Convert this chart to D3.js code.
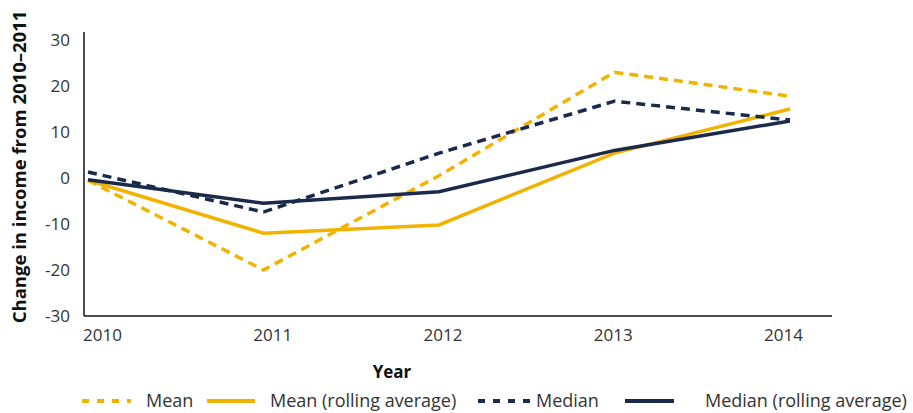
<!DOCTYPE html>
<html lang="en">
<head>
<meta charset="UTF-8">
<title>Change in income</title>
<script src="https://d3js.org/d3.v7.min.js"></script>
<style>
    body { margin: 0; background: #fff; }
    text { font-family: 'Open Sans', 'Noto Sans', sans-serif; }
    .tick text { fill: #333; font-size: 17px; }
</style>
</head>
<body>
<div id="chart"></div>
<script>
    const years = ["2010", "2011", "2012", "2013", "2014"];
    const mean = [-0.5, -20, 0.5, 23, 17.8];
    const meanRolling = [-0.5, -12, -10.2, 5.4, 15];
    const median = [1.3, -7.4, 5.4, 16.7, 12.6];
    const medianRolling = [-0.4, -5.5, -3, 6, 12.4];
    const yTicks = [30, 20, 10, 0, -10, -20, -30];

    const yellow = "#F2B300";
    const navy = "#1B2A4A";

    const series = [
        { name: "Mean", values: mean, color: yellow, dash: "9,6" },
        { name: "Mean (rolling average)", values: meanRolling, color: yellow, dash: null },
        { name: "Median", values: median, color: navy, dash: "9,6" },
        { name: "Median (rolling average)", values: medianRolling, color: navy, dash: null }
    ];

    const width = 913, height = 413;
    const svg = d3.select("#chart").append("svg")
        .attr("width", width)
        .attr("height", height);

    const x = d3.scalePoint().domain(years).range([88, 790]);
    const xLabels = d3.scalePoint().domain(years).range([102, 783]);
    const y = d3.scaleLinear().domain([-30, 30]).range([316, 40]);

    // y axis
    const yAxis = svg.append("g")
        .attr("transform", "translate(84,0)")
        .call(d3.axisLeft(y).tickValues(yTicks).tickSize(0).tickPadding(14).tickFormat(d => String(d)));
    yAxis.select(".domain").remove();
    svg.append("line")
        .attr("x1", 84).attr("x2", 84)
        .attr("y1", 32).attr("y2", 316)
        .attr("stroke", "#111").attr("stroke-width", 1.5);

    // x axis
    const xAxis = svg.append("g")
        .attr("transform", "translate(0,316)")
        .call(d3.axisBottom(xLabels).tickSize(0).tickPadding(13));
    xAxis.select(".domain").remove();
    svg.append("line")
        .attr("x1", 84).attr("x2", 832)
        .attr("y1", 316).attr("y2", 316)
        .attr("stroke", "#111").attr("stroke-width", 1.5);

    // lines
    const line = d3.line()
        .x((d, i) => x(years[i]))
        .y(d => y(d));

    series.forEach(s => {
        svg.append("path")
            .datum(s.values)
            .attr("d", line)
            .attr("fill", "none")
            .attr("stroke", s.color)
            .attr("stroke-width", 3.5)
            .attr("stroke-dasharray", s.dash);
    });

    // axis titles
    svg.append("text")
        .attr("transform", "translate(26,167) rotate(-90)")
        .attr("text-anchor", "middle")
        .style("font-weight", "bold")
        .style("font-size", "18.5px")
        .attr("fill", "#111")
        .text("Change in income from 2010\u20132011");

    svg.append("text")
        .attr("x", 392).attr("y", 378)
        .attr("text-anchor", "middle")
        .style("font-weight", "bold")
        .style("font-size", "17px")
        .attr("fill", "#111")
        .text("Year");

    // legend
    const legendItems = [
        { sx: 82, ex: 131, tx: 146 },
        { sx: 207, ex: 255, tx: 270 },
        { sx: 478, ex: 530, tx: 536 },
        { sx: 625, ex: 674, tx: 705 }
    ];
    const legendY = 401;
    series.forEach((s, i) => {
        const it = legendItems[i];
        svg.append("line")
            .attr("x1", it.sx).attr("x2", it.ex)
            .attr("y1", legendY).attr("y2", legendY)
            .attr("stroke", s.color)
            .attr("stroke-width", 4)
            .attr("stroke-dasharray", s.dash ? "7,8" : null);
        svg.append("text")
            .attr("x", it.tx).attr("y", legendY + 6)
            .style("font-size", "18px")
            .attr("fill", "#333")
            .text(s.name);
    });
</script>
</body>
</html>
